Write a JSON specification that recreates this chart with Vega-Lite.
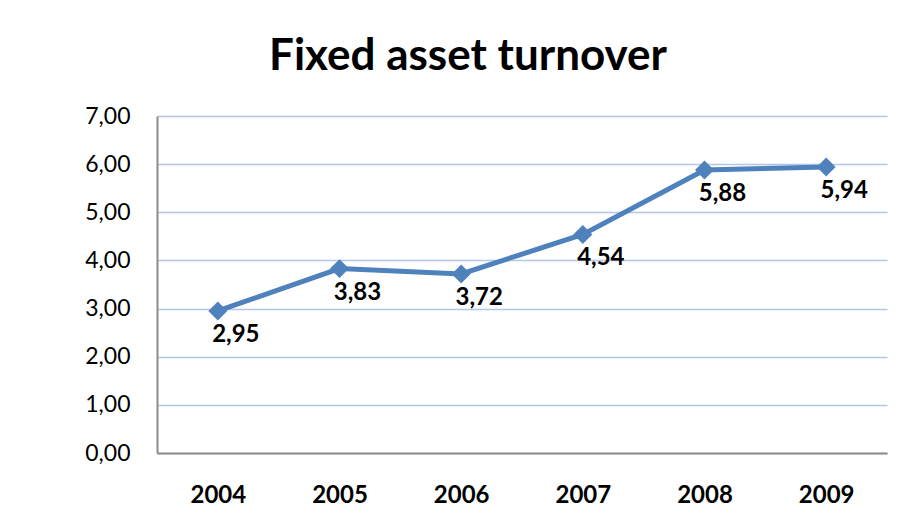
{
  "$schema": "https://vega.github.io/schema/vega-lite/v6.json",
  "width": 730,
  "height": 337,
  "autosize": "none",
  "padding": {"left": 157, "top": 116, "right": 27, "bottom": 67},
  "background": "white",
  "title": {
    "text": "Fixed asset turnover",
    "font": "Lato",
    "fontSize": 44,
    "fontWeight": "bold",
    "color": "black",
    "anchor": "middle",
    "dx": -54,
    "offset": 26
  },
  "config": {
    "locale": {"number": {"decimal": ",", "thousands": ".", "grouping": [3], "currency": ["", " €"]}},
    "view": {"stroke": null},
    "axis": {"labelFont": "Lato", "labelColor": "black"}
  },
  "data": {
    "values": [
      {"year": "2004", "value": 2.95},
      {"year": "2005", "value": 3.83},
      {"year": "2006", "value": 3.72},
      {"year": "2007", "value": 4.54},
      {"year": "2008", "value": 5.88},
      {"year": "2009", "value": 5.94}
    ]
  },
  "encoding": {
    "x": {
      "field": "year",
      "type": "ordinal",
      "title": null,
      "axis": {
        "labelAngle": 0,
        "labelFontSize": 24,
        "labelFontWeight": "bold",
        "labelPadding": 30,
        "ticks": false,
        "domainColor": "#8C8C8C",
        "domainWidth": 2,
        "grid": false
      }
    },
    "y": {
      "field": "value",
      "type": "quantitative",
      "title": null,
      "scale": {"domain": [0, 7], "nice": false},
      "axis": {
        "values": [0, 1, 2, 3, 4, 5, 6, 7],
        "format": ".2f",
        "labelFontSize": 23,
        "labelPadding": 27,
        "ticks": false,
        "domainColor": "#8C8C8C",
        "domainWidth": 2,
        "gridColor": "#B4C7E7",
        "gridWidth": 1.5
      }
    }
  },
  "layer": [
    {
      "mark": {"type": "line", "color": "#4F81BD", "strokeWidth": 5}
    },
    {
      "mark": {"type": "point", "shape": "diamond", "filled": true, "size": 360, "color": "#4F81BD", "opacity": 1}
    },
    {
      "mark": {"type": "text", "font": "Lato", "fontSize": 24, "fontWeight": "bold", "color": "black", "dx": 18, "dy": 24, "align": "center", "baseline": "middle"},
      "encoding": {"text": {"field": "value", "type": "quantitative", "format": ".2f"}}
    }
  ]
}
